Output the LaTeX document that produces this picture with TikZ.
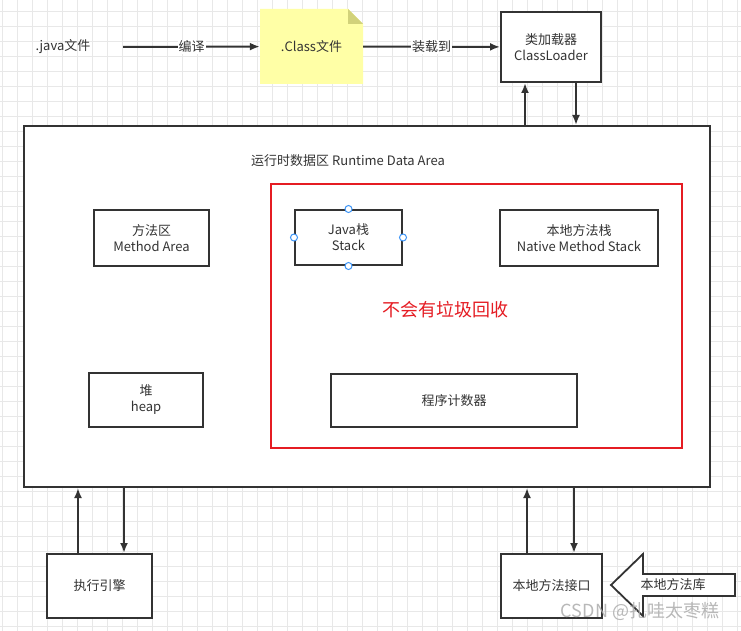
\documentclass[tikz,border=0pt]{standalone}
\usepackage{fontspec}
\setmainfont{Noto Sans CJK SC}
\usepackage{xcolor}
\usetikzlibrary{arrows.meta}
\usetikzlibrary{calc}
\usetikzlibrary{positioning}
\definecolor{ink}{HTML}{333333}
\definecolor{gcred}{HTML}{E51C23}
\definecolor{notefill}{HTML}{FFFFA6}
\definecolor{notefold}{HTML}{D2D27A}
\definecolor{gridgray}{HTML}{E8E8E8}
\definecolor{handle}{HTML}{3D94F6}

\begin{document}
\begin{tikzpicture}
[
	x = 1pt, y = -1pt,
	txt/.style = {text = ink, font = \fontsize{13}{16}\selectfont, align = center},
	box/.style = {txt, rectangle, draw = ink, line width = 2pt, fill = white, inner sep = 0pt},
	note/.style = {txt, rectangle, inner sep = 0pt, minimum width = 103, minimum height = 75,
		path picture = {
			\fill [notefill] (path picture bounding box.south west) |- ([xshift = -15]path picture bounding box.north east)
				-- ([yshift = -15]path picture bounding box.north east) |- cycle;
			\fill [notefold] ([xshift = -15]path picture bounding box.north east)
				-- ([xshift = -15, yshift = -15]path picture bounding box.north east)
				-- ([yshift = -15]path picture bounding box.north east) -- cycle;
		}},
	region/.style = {rectangle, draw = gcred, line width = 1.6pt, inner sep = 0pt},
	flow/.style = {draw = ink, line width = 2pt, -{Latex[length = 10pt, width = 8pt]}},
	tag/.style = {txt, fill = white, inner sep = 1pt},
	grip/.style = {circle, draw = handle, fill = white, line width = 1pt, minimum size = 7pt, inner sep = 0pt},
]

	% canvas
	\useasboundingbox (0,0) rectangle (741,631);
	\fill [white] (0,0) rectangle (741,631);
	\begin{scope}[shift = {(2,11.7)}]
		\draw [gridgray, line width = 0.8pt, step = 15pt] (-2,-11.7) grid (739,619.3);
	\end{scope}

	% loading
	\node (java) [txt, minimum width = 120, minimum height = 30] at (63,47) {.java文件};
	\node (cls) [note] at (311.5,46.5) {.Class文件};
	\node (loader) [box, minimum width = 100, minimum height = 70] at (551,47) {类加载器\\ClassLoader};

	\draw [flow] (java) -- node [tag] {编译} (cls);
	\draw [flow] (cls) -- node [tag] {装载到} (loader);

	% runtime data area
	\node (rda) [box, minimum width = 686, minimum height = 361] at (367,306.5) {};
	\node (title) [txt] at (348,161) {运行时数据区 Runtime Data Area};
	\node (nogc) [region, minimum width = 411, minimum height = 264] at (476.5,316) {};
	%
	\node (method) [box, minimum width = 115, minimum height = 56] at (151.5,238) {方法区\\Method Area};
	\node (stack) [box, minimum width = 107, minimum height = 55] at (348.5,237.5) {Java栈\\Stack};
	\node (native) [box, minimum width = 158, minimum height = 56] at (579,238) {本地方法栈\\Native Method Stack};
	\node (gc) [txt, text = gcred, font = \fontsize{18}{22}\selectfont] at (445,310) {不会有垃圾回收};
	\node (heap) [box, minimum width = 114, minimum height = 54] at (146,400) {堆\\heap};
	\node (pc) [box, minimum width = 246, minimum height = 53] at (454,400.5) {程序计数器};
	%
	\node (grip-n) [grip] at (stack.north) {};
	\node (grip-s) [grip] at (stack.south) {};
	\node (grip-e) [grip] at (stack.east) {};
	\node (grip-w) [grip] at (stack.west) {};

	\draw [flow] ([xshift = -26]loader.south |- rda.north) -- ([xshift = -26]loader.south);
	\draw [flow] ([xshift = 25]loader.south) -- ([xshift = 25]loader.south |- rda.north);

	% execution and native interface
	\node (engine) [box, minimum width = 105, minimum height = 64] at (99.5,586) {执行引擎};
	\node (jni) [box, minimum width = 101, minimum height = 64] at (551.5,586) {本地方法接口};

	\draw [flow] ([xshift = -21.5]engine.north) -- ([xshift = -21.5]engine.north |- rda.south);
	\draw [flow] ([xshift = 24.5]engine.north |- rda.south) -- ([xshift = 24.5]engine.north);
	\draw [flow] ([xshift = -24.5]jni.north) -- ([xshift = -24.5]jni.north |- rda.south);
	\draw [flow] ([xshift = 22.5]jni.north |- rda.south) -- ([xshift = 22.5]jni.north);

	% native library
	\draw [ink, line width = 1.8pt, fill = white, line join = miter]
		(611,585) -- (643,554) -- (643,574) -- (735,574) -- (735,596) -- (643,596) -- (643,616) -- cycle;
	\node (lib) [txt] at (673,585) {本地方法库};

	\node (mark) [font = \fontsize{18}{22}\selectfont, text = gray!65, opacity = 0.85] at (640,611) {CSDN @扎哇太枣糕};

\end{tikzpicture}
\end{document}
